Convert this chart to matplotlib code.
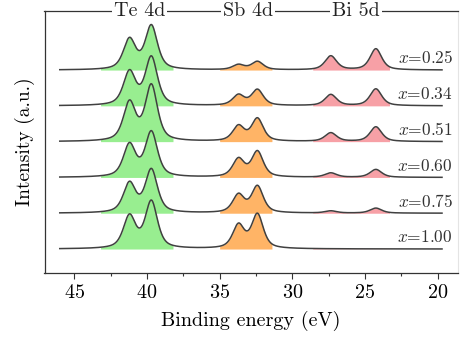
"""Stacked XPS spectra: Te 4d, Sb 4d and Bi 5d shallow core levels."""
import numpy as np
import matplotlib.pyplot as plt

plt.rcParams['font.family'] = 'serif'
plt.rcParams['font.serif'] = ['cmr10']
plt.rcParams['mathtext.fontset'] = 'cm'
plt.rcParams['axes.unicode_minus'] = False
plt.rcParams['axes.formatter.use_mathtext'] = True

# compositions, top curve first
compositions = ["0.25", "0.34", "0.51", "0.60", "0.75", "1.00"]

# peak centres (eV)
te_centres = [41.2, 39.7]
sb_centres = [33.7, 32.4]
bi_centres = [27.35, 24.25]

# peak heights per composition (offset units), [first, second]
te_heights = [[0.84, 1.22], [0.93, 1.34], [1.07, 1.55], [0.90, 1.25], [0.82, 1.20], [0.90, 1.31]]
sb_heights = [[0.14, 0.23], [0.29, 0.44], [0.42, 0.63], [0.50, 0.71], [0.50, 0.74], [0.65, 0.95]]
bi_heights = [[0.39, 0.59], [0.31, 0.47], [0.24, 0.41], [0.12, 0.22], [0.06, 0.14], [0.0, 0.0]]

widths = {'te': 1.0, 'sb': 0.95, 'bi': 0.95}
eta = 0.6

fill_ranges = [(43.2, 38.2), (35.0, 31.4), (28.6, 23.3)]
fill_colors = ['#98ee90', '#ffb466', '#f7a0a6']


def pseudo_voigt(e, centre, height, fwhm):
    hw = fwhm / 2
    lor = 1 / (1 + ((e - centre) / hw) ** 2)
    gau = np.exp(-np.log(2) * ((e - centre) / hw) ** 2)
    return height * (eta * lor + (1 - eta) * gau)


energy = np.linspace(46.0, 19.7, 1500)

fig = plt.figure(figsize=(4.63, 3.39), dpi=100)
ax = fig.add_axes([44.5 / 463, 66 / 339, (458 - 44.5) / 463, 262 / 339])

n = len(compositions)
for i, comp in enumerate(compositions):
    offset = n - 1 - i
    y = np.zeros_like(energy)
    for key, centres, heights in (('te', te_centres, te_heights), ('sb', sb_centres, sb_heights),
                                  ('bi', bi_centres, bi_heights)):
        for c, h in zip(centres, heights[i]):
            y += pseudo_voigt(energy, c, h, widths[key])
    for (hi, lo), col in zip(fill_ranges, fill_colors):
        m = (energy <= hi) & (energy >= lo)
        ax.fill_between(energy[m], offset, offset + y[m], color=col, lw=0)
    ax.plot(energy, offset + y, color='#404040', lw=1.1)
    ax.text(18.95, offset + 0.1, "$x$=" + comp, ha='right', va='bottom', fontsize=12.5, color='#333333')

ax.set_xlim(47.05, 18.6)
ax.set_ylim(-0.67, 6.65)
ax.set_yticks([])
ax.set_xticks([45, 40, 35, 30, 25, 20])
ax.set_xticks(np.arange(42.5, 19, -5), minor=True)
ax.tick_params(axis='x', direction='out', length=4, width=0.8, labelsize=14.5, pad=4, color='#333333')
ax.tick_params(axis='x', which='minor', direction='out', length=2, width=0.8, color='#333333')
for s in ['left', 'bottom', 'top']:
    ax.spines[s].set_color('#333333')
    ax.spines[s].set_linewidth(0.9)
ax.spines['right'].set_color('#e4e4e4')

for label, xpos in [("Te 4d", 40.5), ("Sb 4d", 33.05), ("Bi 5d", 25.6)]:
    ax.text(xpos, 1.0, label, transform=ax.get_xaxis_transform(), ha='center', va='center',
            fontsize=14.5, color='#222222',
            bbox=dict(facecolor='white', edgecolor='none', pad=1.5))

ax.set_xlabel("Binding energy (eV)", fontsize=14.5, labelpad=6)
ax.set_ylabel("Intensity (a.u.)", fontsize=14, labelpad=7)

fig.savefig("out.png", dpi=100)
